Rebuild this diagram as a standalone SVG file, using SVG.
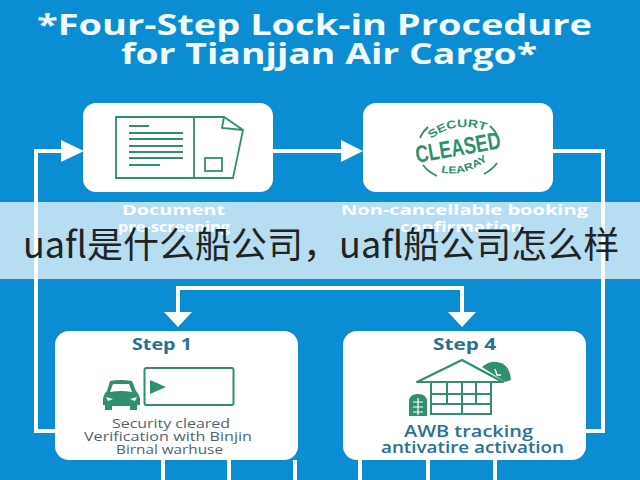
<svg xmlns="http://www.w3.org/2000/svg" width="640" height="480" viewBox="0 0 640 480">
<style>
.card{fill:#fff}
.ln{fill:none;stroke:#fff;stroke-width:4}
.hd{fill:#fff}
.ic{fill:none;stroke:#2f8f6e;stroke-width:1.8}
.icf{fill:#2f8f6e}
text{font-family:"Open Sans","Liberation Sans","Noto Sans CJK SC",sans-serif}
.title{font-size:29px;font-weight:700;fill:#f2fafd}
.lab{font-size:14px;font-weight:700;fill:#fff}
.step{font-size:16.5px;font-weight:700;fill:#2c6f94}
.body{font-size:12px;fill:#4f6473}
.awb{font-size:15.5px;font-weight:600;fill:#2a7099}
.st{fill:#2f8f6e;font-weight:700;font-family:"Liberation Sans",sans-serif}
</style>
<rect width="640" height="480" fill="#0a8dd2"/>
<g id="title">
<text class="title" x="37" y="35" textLength="555" lengthAdjust="spacingAndGlyphs">*Four-Step Lock-in Procedure</text>
<text class="title" x="121" y="64" textLength="416" lengthAdjust="spacingAndGlyphs">for Tianjjan Air Cargo*</text>
</g>
<g id="connectors">
<path class="ln" d="M586 431H603V151H553"/>
<path class="ln" d="M272 151H345"/>
<path class="hd" d="M341 140L363 151L341 162Z"/>
<path class="ln" d="M55 431H36V151H65"/>
<path class="hd" d="M61 140L84 151L61 162Z"/>
<path class="ln" d="M178 316V288H462V316"/>
<path class="hd" d="M164 312H192L178 327Z"/>
<path class="hd" d="M448 312H476L462 327Z"/>
<path class="ln" d="M163 460V480M229 460V480M295 460V480M360 460V480M428 460V480M495 460V480"/>
</g>
<g id="node-document">
<rect class="card" x="83" y="103" width="190" height="89" rx="13"/>
<path class="ic" d="M116 117H224L243 130L233 178H116ZM194 117V178M224 117L222 128L243 130"/>
<path class="ic" d="M129 126H149M129 133H183M129 139H183M129 146H183M129 152H183M129 158H183M129 165H160"/>
<rect class="ic" x="205" y="158" width="17" height="13"/>
<text class="lab" x="122" y="215" textLength="103" lengthAdjust="spacingAndGlyphs">Document</text>
<text class="lab" x="118" y="232" textLength="112" lengthAdjust="spacingAndGlyphs">pre-screening</text>
</g>
<g id="node-booking">
<rect class="card" x="363" y="103" width="190" height="89" rx="13"/>
<path class="ic" d="M420 138A42 31 0 0 1 428 127M490 126A42 31 0 0 1 497 135M497 163A42 31 0 0 1 484 174M437 176A42 31 0 0 1 423 165"/>
<defs>
<path id="stamp-top" d="M431 139Q455 120 486 131"/>
<path id="stamp-bottom" d="M441 172Q462 178 488 160"/>
</defs>
<text class="st" font-size="11"><textPath href="#stamp-top" textLength="58" lengthAdjust="spacingAndGlyphs">SECURT</textPath></text>
<text class="st" font-size="10"><textPath href="#stamp-bottom" textLength="50" lengthAdjust="spacingAndGlyphs">LEARAY</textPath></text>
<text class="st" font-size="24" transform="translate(417 163) rotate(-10)" textLength="86" lengthAdjust="spacingAndGlyphs">CLEASED</text>
<text class="lab" x="341" y="215" textLength="247" lengthAdjust="spacingAndGlyphs">Non-cancellable booking</text>
<text class="lab" x="400" y="232" textLength="123" lengthAdjust="spacingAndGlyphs">confirmation</text>
</g>
<g id="node-step1">
<rect class="card" x="55" y="331" width="243" height="129" rx="14"/>
<text class="step" x="132" y="350" textLength="60" lengthAdjust="spacingAndGlyphs">Step 1</text>
<path class="icf" d="M110 381Q120 379 132 381L136 391Q140 395 140 400V405H137V410H130V406H112V410H105V405H103V400Q103 395 107 391Z"/>
<path d="M113 384H129L132 392Q121 390 110 392Z" fill="#fff"/>
<path d="M106 397L113 399L108 401ZM137 397L130 399L135 401Z" fill="#fff"/>
<rect x="144.500" y="368" width="89" height="37" rx="2" fill="none" stroke="#2f8f6e" stroke-width="2"/>
<path class="icf" d="M150 380L166 387L150 394Z"/>
<text class="body" x="112" y="428" textLength="118" lengthAdjust="spacingAndGlyphs">Security cleared</text>
<text class="body" x="84" y="441" textLength="168" lengthAdjust="spacingAndGlyphs">Verification with Binjin</text>
<text class="body" x="116" y="454" textLength="107" lengthAdjust="spacingAndGlyphs">Birnal warhuse</text>
</g>
<g id="node-step4">
<rect class="card" x="343" y="331" width="243" height="129" rx="14"/>
<text class="step" x="433" y="350" textLength="63" lengthAdjust="spacingAndGlyphs">Step 4</text>
<path class="icf" d="M482 367Q489 361 497 362Q510 364 511 380L505 382Z"/>
<path d="M417 382L462 360L503 382Z" fill="#fff" stroke="#2f8f6e" stroke-width="2.200" stroke-linejoin="round"/>
<path d="M431 382V414H491V382M431 394H491M431 404H491M447 382V404M462 382V414M476 382V404" fill="none" stroke="#2f8f6e" stroke-width="2"/>
<path class="icf" d="M409 416V402Q409 394 418 394Q427 394 427 402V416Z"/>
<path d="M413 402H423M413 407H423M413 412H423M418 398V415" stroke="#fff" stroke-width="1.200"/>
<path d="M495 369L497 375H501" fill="none" stroke="#fff" stroke-width="1.300"/>
<text class="awb" x="404" y="437" textLength="129" lengthAdjust="spacingAndGlyphs">AWB tracking</text>
<text class="awb" x="381" y="453" textLength="183" lengthAdjust="spacingAndGlyphs">antivatire activation</text>
</g>
<rect id="banner" x="0" y="202" width="640" height="77" fill="#fff" fill-opacity="0.7"/>
<text id="banner-text" x="23" y="258" font-size="36" fill="#222" style="font-family:'Noto Sans CJK SC','Noto Sans',sans-serif">uafl是什么船公司，uafl船公司怎么样</text>
</svg>
